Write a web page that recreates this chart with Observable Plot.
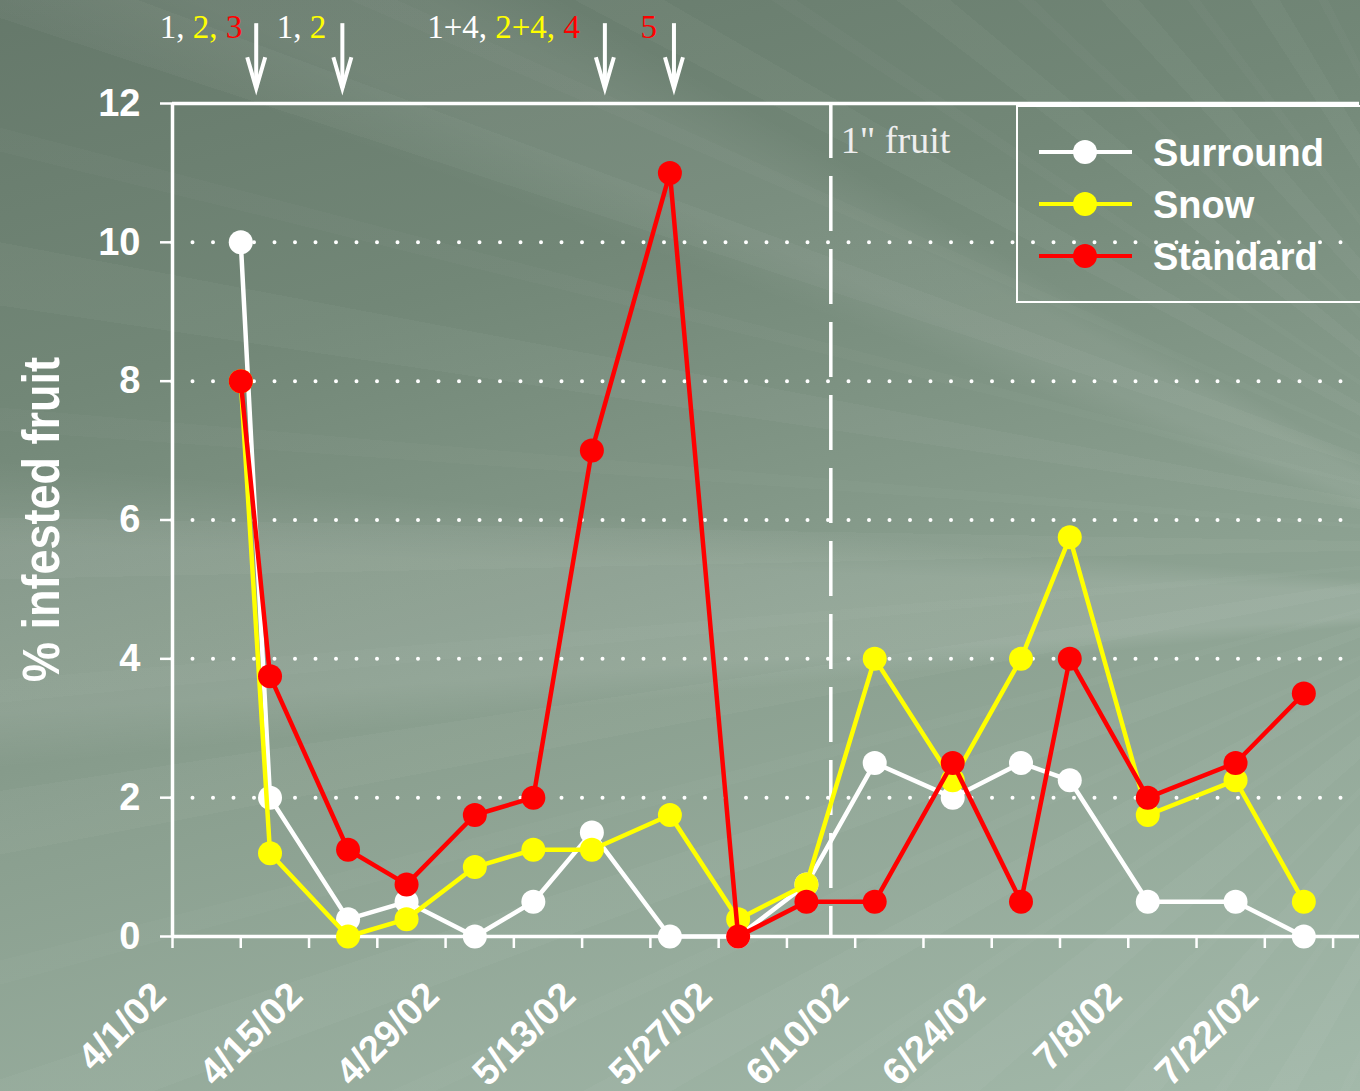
<!DOCTYPE html>
<html><head><meta charset="utf-8">
<script src="https://cdn.jsdelivr.net/npm/d3@7"></script>
<script src="https://cdn.jsdelivr.net/npm/@observablehq/plot@0.6"></script>
<style>
html,body{margin:0;padding:0;}
body{width:1360px;height:1091px;overflow:hidden;position:relative;
background:
 repeating-conic-gradient(from 230deg at 118% 50%, rgba(255,255,255,0.03) 0deg 2.2deg, rgba(255,255,255,0) 2.2deg 5.3deg, rgba(255,255,255,0.02) 5.3deg 6.1deg, rgba(255,255,255,0) 6.1deg 9.7deg),
 conic-gradient(from 250deg at 118% 55%, rgba(255,255,255,0) 0deg 14deg, rgba(255,255,255,0.10) 16deg 22deg, rgba(255,255,255,0) 25deg 40deg, rgba(255,255,255,0.06) 43deg 47deg, rgba(255,255,255,0) 50deg 360deg),
 linear-gradient(165deg, #65786a 0%, #728777 28%, #8a9f8f 58%, #a3b9aa 100%);}
#chart svg{display:block;}
</style></head><body><div id="chart"></div>
<script>
// ---- data ----
const sampleDates = ["2002-04-08","2002-04-11","2002-04-19","2002-04-25","2002-05-02","2002-05-08","2002-05-14","2002-05-22","2002-05-29","2002-06-05","2002-06-12","2002-06-20","2002-06-27","2002-07-02","2002-07-10","2002-07-19","2002-07-26"];
const surround = [10, 2, 0.25, 0.5, 0, 0.5, 1.5, 0, 0, 0.75, 2.5, 2, 2.5, 2.25, 0.5, 0.5, 0];
const snow     = [8, 1.2, 0, 0.25, 1, 1.25, 1.25, 1.75, 0.25, 0.75, 4, 2.25, 4, 5.75, 1.75, 2.25, 0.5];
const standard = [8, 3.75, 1.25, 0.75, 1.75, 2, 7, 11, 0, 0.5, 0.5, 2.5, 0.5, 4, 2, 2.5, 3.5];
const seriesNames = ["Surround", "Snow", "Standard"];
const seriesColors = ["#ffffff", "#ffff00", "#ff0000"];
const xTickLabels = ["4/1/02","4/15/02","4/29/02","5/13/02","5/27/02","6/10/02","6/24/02","7/8/02","7/22/02"];
const yTicks = [0, 2, 4, 6, 8, 10, 12];
const gridValues = [2, 4, 6, 8, 10];
const sprayDates = ["2002-04-09T14:00Z","2002-04-18T10:00Z","2002-05-15T08:00Z","2002-05-22T10:00Z"];
const sprayLabelParts = [
  [["1, ", 0], ["2, ", 1], ["3", 2]],
  [["1, ", 0], ["2", 1]],
  [["1+4, ", 0], ["2+4, ", 1], ["4", 2]],
  [["5", 2]]
];
const sprayLabelGap = [-14, -16, -25, -17];
const fruitDate = "2002-06-07T12:00Z";
const fruitLabel = '1" fruit';
const yTitle = "% infested fruit";

// ---- build ----
const parseLabel = d3.utcParse("%m/%d/%y");
const xStart = new Date("2002-04-01T00:00Z");
const xEnd = new Date("2002-07-31T17:00Z");
const allSeries = [surround, snow, standard];
const rows = seriesNames.flatMap((name, k) =>
  sampleDates.map((d, i) => ({series: name, date: new Date(d), value: allSeries[k][i]})));
const labelRows = xTickLabels.map(l => ({date: parseLabel(l), label: l}));
const minorTicks = d3.utcMonday.range(xStart, xEnd);
const sprays = sprayDates.map((d, i) => ({date: new Date(d), text: sprayLabelParts[i].map(p => p[0]).join("")}));

const sans = "'Liberation Sans', Arial, Helvetica, sans-serif";
const serif = "'Liberation Serif', 'Times New Roman', serif";

const vShape = {draw(ctx) { ctx.moveTo(-9, -31); ctx.lineTo(0, 0); ctx.lineTo(9, -31); }};

const seriesMarks = seriesNames.flatMap((name, k) => {
  const d = rows.filter(r => r.series === name);
  return [
    Plot.line(d, {x: "date", y: "value", stroke: seriesColors[k], strokeWidth: 4.5}),
    Plot.dot(d, {x: "date", y: "value", r: 12, fill: seriesColors[k], stroke: "none"})
  ];
});

const sprayTextMarks = sprays.map((s, i) =>
  Plot.text([s], {x: "date", y: () => 13.1, text: "text", textAnchor: "end", dx: sprayLabelGap[i], fontSize: 33, fontFamily: serif, fill: "#f4f4f4"}));

const chart = Plot.plot({
  width: 1360, height: 1091,
  marginTop: 103, marginLeft: 172, marginRight: 1, marginBottom: 155,
  style: {background: "transparent", overflow: "visible", fontFamily: sans},
  x: {type: "utc", domain: [xStart, xEnd], axis: null},
  y: {domain: [0, 12], axis: null},
  marks: [
    Plot.ruleY(gridValues, {stroke: "white", strokeWidth: 4, strokeDasharray: "0,20.5", strokeLinecap: "round"}),
    Plot.ruleX([new Date(fruitDate)], {y1: 12, y2: 0, stroke: "white", strokeWidth: 3.5, strokeDasharray: "55,18"}),
    Plot.axisX(minorTicks, {tickSize: 12, text: null, stroke: "white", strokeWidth: 2.5, strokeOpacity: 1}),
    Plot.axisY(yTicks, {tickSize: 12, tickPadding: 20, tickFormat: d3.format("d"), fontSize: 38, fontWeight: "bold", fill: "white", stroke: "white", strokeWidth: 2.5, strokeOpacity: 1, label: null, fontFamily: sans}),
    Plot.ruleY([0, 12], {stroke: "white", strokeWidth: 3.5}),
    Plot.ruleX([xStart], {stroke: "white", strokeWidth: 3.5}),
    Plot.text(labelRows, {x: "date", frameAnchor: "bottom", text: "label", rotate: -45, textAnchor: "end", lineAnchor: "middle",
      dx: -13, dy: 53, fontSize: 38, fontWeight: "bold", fill: "white", fontFamily: sans}),
    ...seriesMarks,
    Plot.ruleX(sprays, {x: "date", y1: 13.15, y2: 12.22, stroke: "white", strokeWidth: 4}),
    Plot.dot(sprays, {x: "date", y: 12.22, symbol: vShape, fill: "none", stroke: "white", strokeWidth: 4, strokeLinejoin: "miter"}),
    ...sprayTextMarks,
    Plot.text([fruitLabel], {x: () => new Date(fruitDate), y: () => 12, text: d => d, textAnchor: "start", dx: 10, dy: 37, fontSize: 38, fontFamily: serif, fill: "#eeeeee"}),
    Plot.text([yTitle], {frameAnchor: "left", rotate: -90, dx: -130, dy: 162, textAnchor: "start", text: d => d, fontSize: 52, fontWeight: "bold", fill: "white", fontFamily: sans})
  ]
});
document.getElementById("chart").appendChild(chart);

const svg = d3.select(chart);
// colour the spray labels part by part
const sprayTexts = sprays.map(s => s.text);
svg.selectAll("text").each(function() {
  const t = d3.select(this);
  const content = this.textContent;
  const i = sprayTexts.indexOf(content);
  if (i >= 0 && this.childElementCount === 0) {
    t.text(null);
    sprayLabelParts[i].forEach(([s, c]) => t.append("tspan").attr("fill", seriesColors[c]).text(s));
  }
  if (content === yTitle) {
    t.attr("textLength", 325).attr("lengthAdjust", "spacingAndGlyphs");
  }
});

// legend
const lg = svg.append("g").attr("font-family", sans).attr("text-anchor", "start");
lg.append("rect").attr("x", 1017).attr("y", 106).attr("width", 345).attr("height", 196)
  .attr("fill", "none").attr("stroke", "white").attr("stroke-width", 2);
seriesNames.forEach((name, k) => {
  const y = 152 + k * 52;
  lg.append("line").attr("x1", 1039).attr("x2", 1132).attr("y1", y).attr("y2", y)
    .attr("stroke", seriesColors[k]).attr("stroke-width", 4);
  lg.append("circle").attr("cx", 1085).attr("cy", y).attr("r", 12).attr("fill", seriesColors[k]);
  lg.append("text").attr("x", 1153).attr("y", y).attr("dy", "0.36em").attr("fill", "white")
    .attr("font-size", 38).attr("font-weight", "bold").attr("text-anchor", "start").text(name);
});
</script>
</body></html>
